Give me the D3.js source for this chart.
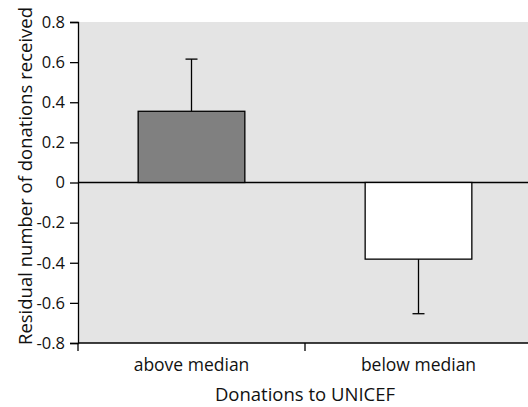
<!DOCTYPE html>
<html>
<head>
<meta charset="utf-8">
<script src="https://cdn.jsdelivr.net/npm/d3@7"></script>
<style>
  body { margin: 0; background: #fff; }
  svg text { font-family: "Open Sans", "DejaVu Sans", sans-serif; fill: #111; }
</style>
</head>
<body>
<svg id="chart"></svg>
<script>
// chart data
const categories = ['above median', 'below median'];
const means = [0.355, -0.382];
const errors = [0.26, 0.272];
const yTicks = [-0.8, -0.6, -0.4, -0.2, 0, 0.2, 0.4, 0.6, 0.8];
const barFills = ['#808080', '#ffffff'];

const width = 528;
const height = 407;
const margin = { top: 22, right: -4, bottom: 64, left: 78 };
const innerW = width - margin.left - margin.right;
const innerH = height - margin.top - margin.bottom;

const svg = d3.select('#chart')
  .attr('width', width)
  .attr('height', height);

const chart = svg.append('g')
  .attr('transform', `translate(${margin.left},${margin.top})`);

const xScale = d3.scaleBand()
  .domain(categories)
  .range([0, innerW])
  .paddingInner(0.53)
  .paddingOuter(0.265);

const xBand = d3.scaleBand()
  .domain(categories)
  .range([0, innerW]);

const yScale = d3.scaleLinear()
  .domain([-0.8, 0.8])
  .range([innerH, 0]);

// plot background
chart.append('rect')
  .attr('x', 0)
  .attr('y', 0)
  .attr('width', width - margin.left)
  .attr('height', innerH)
  .attr('fill', '#e4e4e4');

// zero line
chart.append('line')
  .attr('x1', 0)
  .attr('x2', width - margin.left)
  .attr('y1', yScale(0))
  .attr('y2', yScale(0))
  .attr('stroke', '#000')
  .attr('stroke-width', 1.3);

// error bars
const capW = 12;
chart.selectAll('.err')
  .data(categories)
  .join('g')
  .attr('class', 'err')
  .each(function (d, i) {
    const g = d3.select(this);
    const cx = xScale(d) + xScale.bandwidth() / 2;
    const end = means[i] + Math.sign(means[i]) * errors[i];
    g.append('line')
      .attr('x1', cx).attr('x2', cx)
      .attr('y1', yScale(means[i])).attr('y2', yScale(end))
      .attr('stroke', '#000').attr('stroke-width', 1.3);
    g.append('line')
      .attr('x1', cx - capW / 2).attr('x2', cx + capW / 2)
      .attr('y1', yScale(end)).attr('y2', yScale(end))
      .attr('stroke', '#000').attr('stroke-width', 1.3);
  });

// bars
chart.selectAll('.bar')
  .data(categories)
  .join('rect')
  .attr('class', 'bar')
  .attr('x', (d) => xScale(d))
  .attr('width', xScale.bandwidth())
  .attr('y', (d, i) => yScale(Math.max(0, means[i])))
  .attr('height', (d, i) => Math.abs(yScale(means[i]) - yScale(0)))
  .attr('fill', (d, i) => barFills[i])
  .attr('stroke', '#000')
  .attr('stroke-width', 1.3);

// y axis
const yAxis = d3.axisLeft(yScale)
  .tickValues(yTicks)
  .tickSize(8)
  .tickPadding(5)
  .tickFormat((d) => (d === 0 ? '0' : d.toFixed(1)));

const yAxisG = chart.append('g').call(yAxis);
yAxisG.select('.domain').attr('stroke', '#000').attr('stroke-width', 1.3);
yAxisG.selectAll('.tick line').attr('stroke', '#000').attr('stroke-width', 1.3);
yAxisG.selectAll('.tick text').style('font-size', '16.5px');

// x axis
const xAxisG = chart.append('g')
  .attr('transform', `translate(0,${innerH})`);
xAxisG.append('line')
  .attr('x1', 0).attr('x2', width - margin.left)
  .attr('stroke', '#000').attr('stroke-width', 1.3);
xAxisG.selectAll('.xtick')
  .data(categories)
  .join('line')
  .attr('class', 'xtick')
  .attr('x1', (d, i) => (i === 0 ? 0 : xBand(d)))
  .attr('x2', (d, i) => (i === 0 ? 0 : xBand(d)))
  .attr('y1', 0).attr('y2', 8)
  .attr('stroke', '#000').attr('stroke-width', 1.3);
xAxisG.selectAll('.xlabel')
  .data(categories)
  .join('text')
  .attr('class', 'xlabel')
  .attr('x', (d) => xScale(d) + xScale.bandwidth() / 2)
  .attr('y', 28)
  .attr('text-anchor', 'middle')
  .style('font-size', '17.5px')
  .text((d) => d);

// axis titles
svg.append('text')
  .attr('x', margin.left + xBand.bandwidth())
  .attr('y', 401)
  .attr('text-anchor', 'middle')
  .style('font-size', '18.5px')
  .text('Donations to UNICEF');

svg.append('text')
  .attr('transform', `translate(32,176) rotate(-90)`)
  .attr('text-anchor', 'middle')
  .style('font-size', '18.5px')
  .text('Residual number of donations received');
</script>
</body>
</html>
